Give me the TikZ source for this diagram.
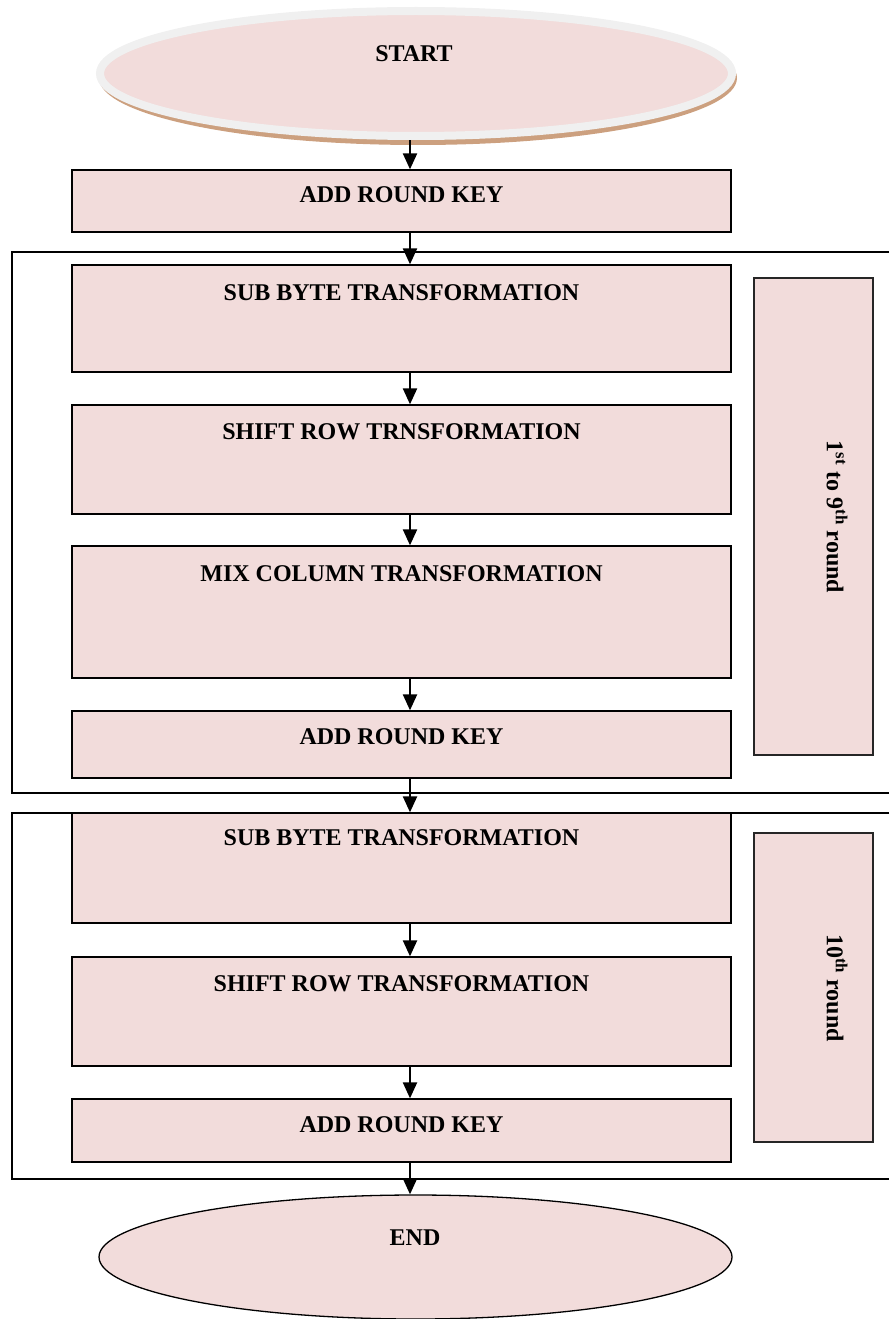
\documentclass[tikz,border=0pt]{standalone}
\usepackage{fontspec}
\setmainfont{Liberation Serif}
\usetikzlibrary{shapes.geometric,arrows.meta}
\definecolor{boxpink}{HTML}{F2DCDB}
\definecolor{ringgrey}{HTML}{F0F0F0}
\definecolor{shadowbrown}{HTML}{CCA07F}
\begin{document}
\begin{tikzpicture}[x=1pt,y=-1pt,
  stepbox/.style={draw=black, line width=1.3pt, fill=boxpink, rectangle,
    inner sep=0pt, minimum width=659pt},
  sidebox/.style={draw=black!85, line width=1.6pt, fill=boxpink, rectangle,
    inner sep=0pt, minimum width=119pt},
  caption/.style={font=\fontsize{24}{28}\selectfont\bfseries, inner sep=0pt},
  sidecaption/.style={caption, rotate=-90},
  flow/.style={line width=2.2pt, -{Triangle[width=14pt,length=16pt]}},
  frame/.style={line width=1.5pt}
]
\useasboundingbox (0,0) rectangle (889,1319);

% axis of the vertical connectors
\coordinate (axis) at (410,0);

% START terminal: brown shadow, grey rim, pink face
\fill[shadowbrown] (418,78) ellipse [x radius=319, y radius=67];
\node[ellipse, draw=ringgrey, line width=8pt, fill=boxpink,
      minimum width=632pt, minimum height=125pt, inner sep=0pt] (start) at (416,73.5) {};
\node[caption] (startlbl) at (414,54) {START};

% initial round key
\node[stepbox, minimum height=62pt] (ark0) at (401.5,201) {};
\node[caption] (ark0lbl) at (401.5,195) {ADD ROUND KEY};

% frame of rounds 1 to 9 (open to the right)
\draw[frame] (889,252) -| (12,793) -- (889,793);

\node[stepbox, minimum height=107pt] (sb1) at (401.5,318.5) {};
\node[caption] (sb1lbl) at (401.5,293) {SUB BYTE TRANSFORMATION};
\node[stepbox, minimum height=109pt] (sr1) at (401.5,459.5) {};
\node[caption] (sr1lbl) at (401.5,432) {SHIFT ROW TRNSFORMATION};
\node[stepbox, minimum height=132pt] (mc1) at (401.5,612) {};
\node[caption] (mc1lbl) at (401.5,574) {MIX COLUMN TRANSFORMATION};
\node[stepbox, minimum height=67pt] (ark1) at (401.5,744.5) {};
\node[caption] (ark1lbl) at (401.5,737) {ADD ROUND KEY};

\node[sidebox, minimum height=477pt] (rounds) at (813.5,516.5) {};
\node[sidecaption] (roundslbl) at (837,517)
  {1\textsuperscript{st} to 9\textsuperscript{th} round};

% frame of round 10 (open to the right)
\draw[frame] (889,813) -| (12,1179) -- (889,1179);

\node[stepbox, minimum height=110pt] (sb2) at (401.5,868) {};
\node[caption] (sb2lbl) at (401.5,838) {SUB BYTE TRANSFORMATION};
\node[stepbox, minimum height=109pt] (sr2) at (401.5,1011.5) {};
\node[caption] (sr2lbl) at (401.5,984) {SHIFT ROW TRANSFORMATION};
\node[stepbox, minimum height=63pt] (ark2) at (401.5,1130.5) {};
\node[caption] (ark2lbl) at (401.5,1125) {ADD ROUND KEY};

\node[sidebox, minimum height=309pt] (last) at (813.5,987.5) {};
\node[sidecaption] (lastlbl) at (837,988) {10\textsuperscript{th} round};

% END terminal
\node[ellipse, draw=black, line width=1.3pt, fill=boxpink,
      minimum width=633pt, minimum height=124pt, inner sep=0pt] (end) at (415.5,1257) {};
\node[caption] (endlbl) at (415,1238) {END};

% connectors
\draw[flow] (start.south -| axis) -- (ark0.north -| axis);
\draw[flow] (ark0.south -| axis) -- (sb1.north -| axis);
\draw[flow] (sb1.south -| axis) -- (sr1.north -| axis);
\draw[flow] (sr1.south -| axis) -- (mc1.north -| axis);
\draw[flow] (mc1.south -| axis) -- (ark1.north -| axis);
\draw[flow] (ark1.south -| axis) -- (sb2.north -| axis);
\draw[flow] (sb2.south -| axis) -- (sr2.north -| axis);
\draw[flow] (sr2.south -| axis) -- (ark2.north -| axis);
\draw[flow] (ark2.south -| axis) -- (end.north -| axis);
\end{tikzpicture}
\end{document}
